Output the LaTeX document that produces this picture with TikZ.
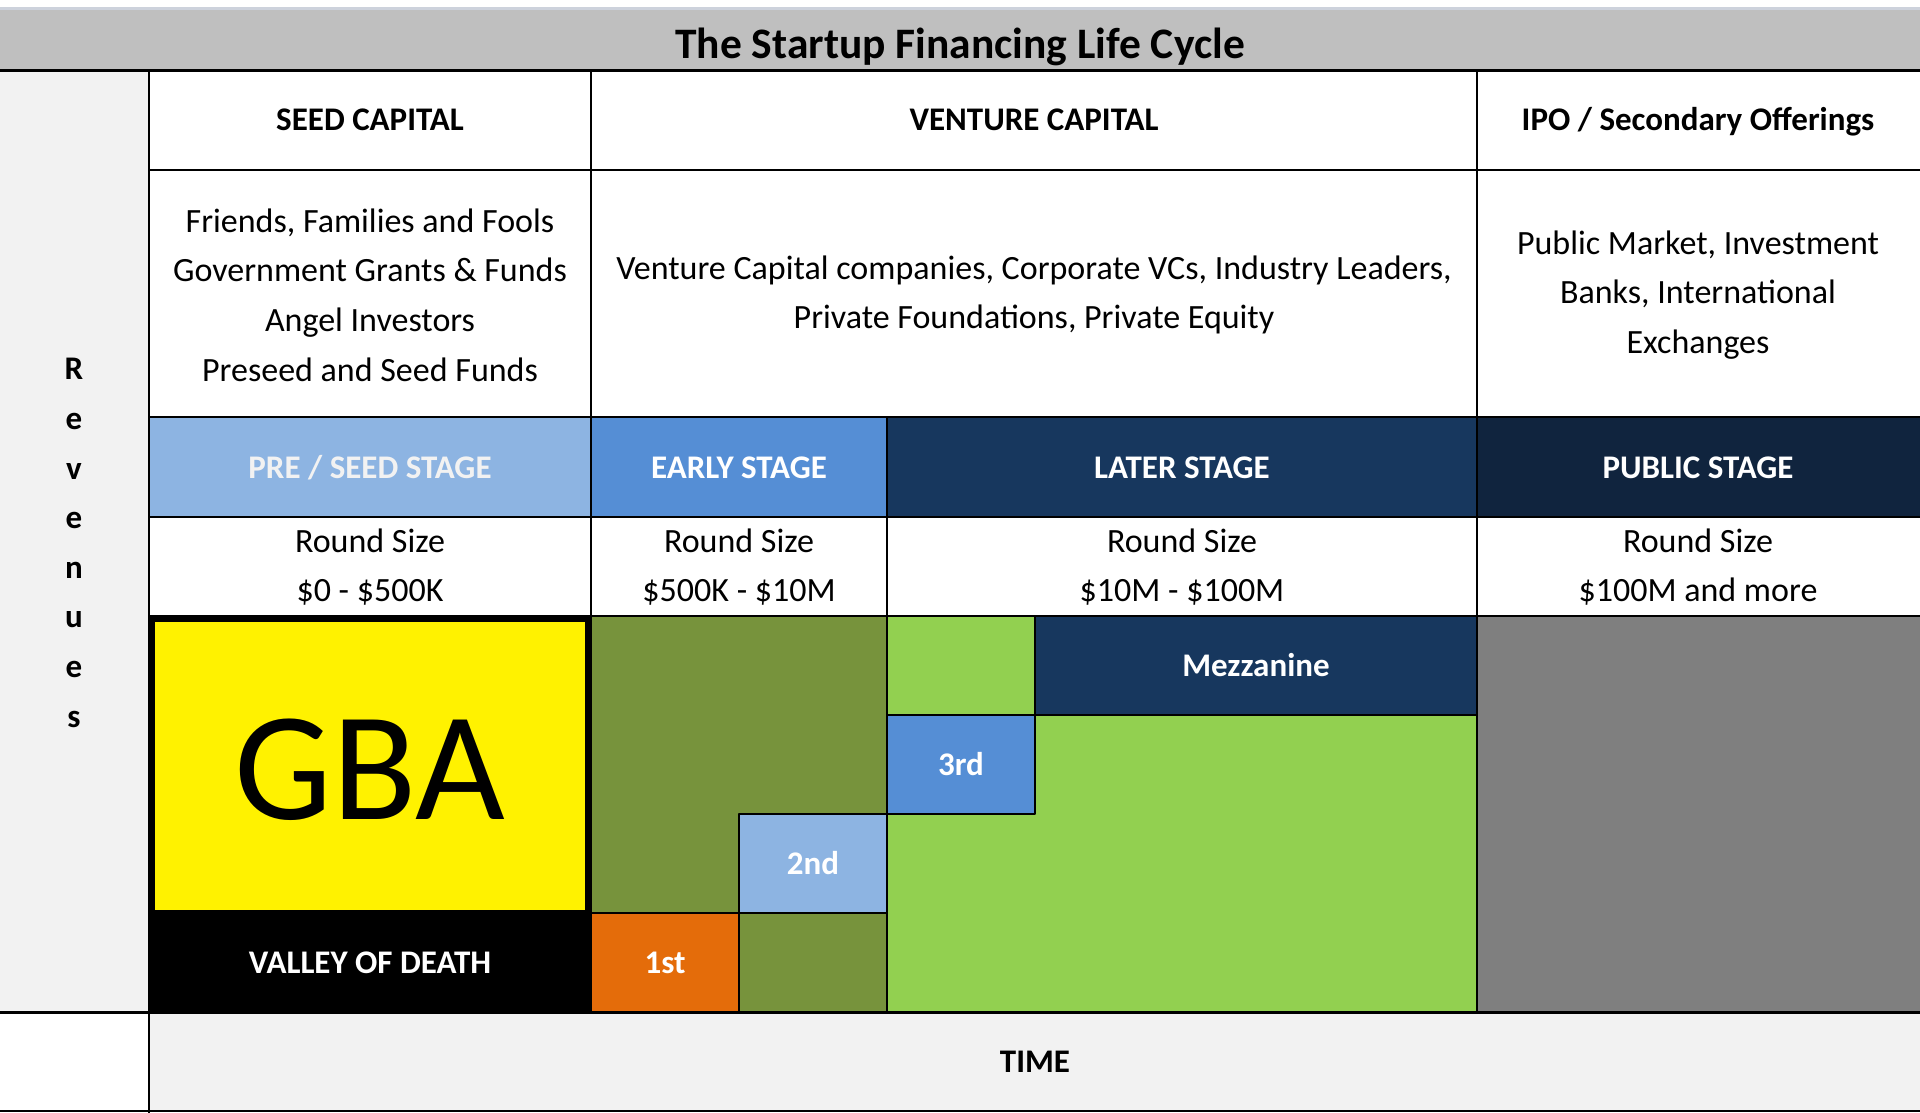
\documentclass[tikz,border=0pt]{standalone}
\usepackage{fontspec}
\setmainfont{Carlito}
\definecolor{bandgrey}{HTML}{BFBFBF}
\definecolor{bandedge}{HTML}{CDD2DC}
\definecolor{sidegrey}{HTML}{F2F2F2}
\definecolor{seedblue}{HTML}{8DB4E2}
\definecolor{earlyblue}{HTML}{558ED5}
\definecolor{latenavy}{HTML}{17375E}
\definecolor{publicnavy}{HTML}{10243E}
\definecolor{olive}{HTML}{77933C}
\definecolor{leaf}{HTML}{92D050}
\definecolor{rust}{HTML}{E46C0A}
\definecolor{stone}{HTML}{7F7F7F}
\tikzset{
  plaintxt/.style={font=\fontsize{34}{49.6}\selectfont, align=center, inner sep=0pt},
  boldtxt/.style={font=\fontsize{33}{49.6}\selectfont\bfseries, align=center, inner sep=0pt},
  box/.style={draw=black, line width=2pt},
}
\begin{document}
\begin{tikzpicture}[x=1pt,y=-1pt,line join=round]
  \useasboundingbox (0,0) rectangle (1920,1113);
  \fill[white] (0,0) rectangle (1920,1113);
  % bands
  \fill[bandgrey] (0,9) rectangle (1920,71);
  \fill[sidegrey] (0,71) rectangle (149,1012);
  \fill[sidegrey] (149,1012) rectangle (1920,1111);
  % stage row
  \fill[seedblue] (149,417) rectangle (591,517);
  \fill[earlyblue] (591,417) rectangle (887,517);
  \fill[latenavy] (887,417) rectangle (1477,517);
  \fill[publicnavy] (1477,417) rectangle (1920,517);
  % rounds
  \fill[olive] (591,616) rectangle (887,1012);
  \fill[leaf] (887,616) rectangle (1477,1012);
  \fill[stone] (1477,616) rectangle (1920,1012);
  \draw[box,fill=black] (149,913) rectangle (591,1012);
  \draw[box,fill=rust] (591,913) rectangle (739,1012);
  \draw[box] (739,913) rectangle (887,1012);
  \draw[box,fill=seedblue] (739,814) rectangle (887,913);
  \draw[box] (887,616) rectangle (1035,715);
  \draw[box,fill=earlyblue] (887,715) rectangle (1035,814);
  \draw[box,fill=latenavy] (1035,616) rectangle (1477,715);
  \draw[black,line width=6pt,fill=yellow] (152,619) rectangle (588,913);
  % grid
  \draw[bandedge,line width=3pt] (0,9) -- (1920,9);
  \draw[line width=3pt] (0,71) -- (1920,71);
  \foreach \y in {170,417,517,616}
    \draw[box] (149,\y) -- (1920,\y);
  \draw[line width=3pt] (0,1012) -- (1920,1012);
  \draw[box] (0,1111) -- (1920,1111);
  \draw[box] (149,71) -- (149,1113);
  \foreach \x in {591,1477}
    \draw[box] (\x,71) -- (\x,1012);
  \draw[box] (887,417) -- (887,1012);
  % texts
  \node[font=\fontsize{43.5}{54}\selectfont\bfseries, anchor=base] (title) at (960,59) {The Startup Financing Life Cycle};
  \node[boldtxt, anchor=base] (seedcap) at (370,131) {SEED CAPITAL};
  \node[boldtxt, anchor=base] (venturecap) at (1034,131) {VENTURE CAPITAL};
  \node[boldtxt, anchor=base] (ipo) at (1698,131) {IPO / Secondary Offerings};
  \node[plaintxt] (seedsrc) at (370,295) {Friends, Families and Fools\\Government Grants \& Funds\\Angel Investors\\Preseed and Seed Funds};
  \node[plaintxt] (venturesrc) at (1034,295) {Venture Capital companies, Corporate VCs, Industry Leaders,\\Private Foundations, Private Equity};
  \node[plaintxt] (iposrc) at (1698,295) {Public Market, Investment\\Banks, International\\Exchanges};
  \node[boldtxt, anchor=base, text=sidegrey] (preseed) at (370,478) {PRE / SEED STAGE};
  \node[boldtxt, anchor=base, text=white] (early) at (739,478) {EARLY STAGE};
  \node[boldtxt, anchor=base, text=white] (later) at (1182,478) {LATER STAGE};
  \node[boldtxt, anchor=base, text=white] (public) at (1698,478) {PUBLIC STAGE};
  \node[plaintxt] (seedround) at (370,567) {Round Size\\\$0 - \$500K};
  \node[plaintxt] (earlyround) at (739,567) {Round Size\\\$500K - \$10M};
  \node[plaintxt] (laterround) at (1182,567) {Round Size\\\$10M - \$100M};
  \node[plaintxt] (publicround) at (1698,567) {Round Size\\\$100M and more};
  \node[font=\fontsize{155}{160}\selectfont, inner sep=0pt] (gba) at (370,770) {GBA};
  \node[boldtxt, anchor=base, text=white] (valley) at (370,973) {VALLEY OF DEATH};
  \node[boldtxt, anchor=base, text=white] (first) at (665,973) {1st};
  \node[boldtxt, anchor=base, text=white] (second) at (813,874) {2nd};
  \node[boldtxt, anchor=base, text=white] (third) at (961,775) {3rd};
  \node[boldtxt, anchor=base, text=white] (mezz) at (1256,676) {Mezzanine};
  \node[boldtxt] (revenues) at (74,543) {R\\e\\v\\e\\n\\u\\e\\s};
  \node[boldtxt, anchor=base] (time) at (1035,1072) {TIME};
\end{tikzpicture}
\end{document}
